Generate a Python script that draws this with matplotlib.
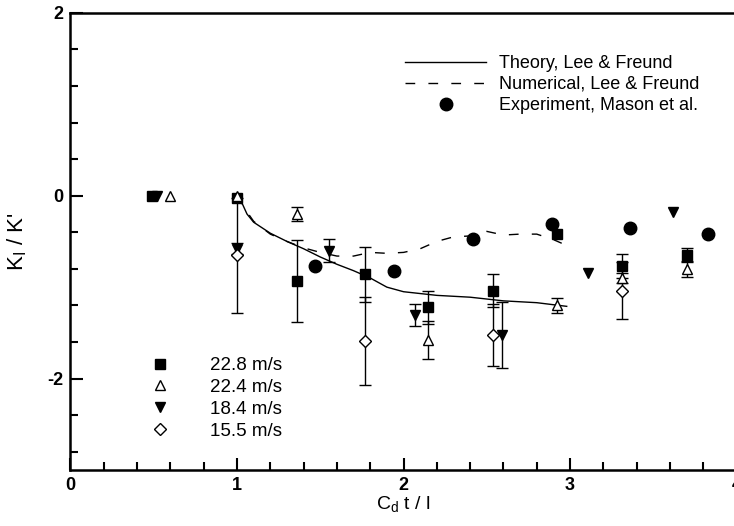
import numpy as np
import matplotlib
matplotlib.use("Agg")
import matplotlib.pyplot as plt
from matplotlib.lines import Line2D
from matplotlib.ticker import MultipleLocator

plt.rcParams['font.family'] = ['Liberation Sans', 'DejaVu Sans']
plt.rcParams['mathtext.default'] = 'regular'
plt.rcParams['axes.unicode_minus'] = False

# theory / numerical curves (Lee & Freund)
theory_x = [1.0, 1.03, 1.06, 1.1, 1.15, 1.2, 1.3, 1.4, 1.5, 1.6, 1.7, 1.8, 1.9, 2.0,
            2.1, 2.2, 2.4, 2.6, 2.8, 2.98]
theory_y = [0.0, -0.08, -0.2, -0.29, -0.35, -0.41, -0.5, -0.58, -0.67, -0.75, -0.82,
            -0.9, -1.0, -1.05, -1.07, -1.09, -1.11, -1.15, -1.17, -1.21]
num_x = [1.0, 1.05, 1.1, 1.2, 1.3, 1.4, 1.5, 1.6, 1.7, 1.8, 1.9, 2.0, 2.1, 2.2, 2.3,
         2.4, 2.5, 2.6, 2.7, 2.8, 2.9, 2.95]
num_y = [0.0, -0.15, -0.28, -0.42, -0.5, -0.57, -0.62, -0.66, -0.66, -0.62, -0.63,
         -0.62, -0.58, -0.5, -0.45, -0.44, -0.39, -0.43, -0.42, -0.42, -0.48, -0.52]

# experiment, Mason et al.
exp_x = [1.47, 1.94, 2.42, 2.89, 3.36, 3.83]
exp_y = [-0.77, -0.82, -0.47, -0.31, -0.35, -0.42]

# velocity series with error bars
sq_x = [0.49, 1.0, 1.36, 1.77, 2.15, 2.54, 2.92, 3.31, 3.7]
sq_y = [0.0, -0.03, -0.93, -0.86, -1.22, -1.04, -0.42, -0.77, -0.65]
sq_err = [0, 0, 0.45, 0.3, 0.18, 0.18, 0, 0.13, 0.08]

tri_x = [0.6, 1.0, 1.36, 2.15, 2.92, 3.31, 3.7]
tri_y = [0.0, 0.0, -0.2, -1.58, -1.2, -0.9, -0.8]
tri_err = [0, 0, 0.08, 0.21, 0.08, 0.05, 0.09]

dtri_x = [0.52, 1.0, 1.55, 2.07, 2.59, 3.11, 3.62]
dtri_y = [0.0, -0.58, -0.6, -1.3, -1.52, -0.85, -0.18]
dtri_err = [0, 0.06, 0.13, 0.12, 0.36, 0, 0]

dia_x = [1.0, 1.77, 2.54, 3.31]
dia_y = [-0.65, -1.59, -1.52, -1.04]
dia_err = [0.63, 0.48, 0.34, 0.31]

labels = ['22.8 m/s', '22.4 m/s', '18.4 m/s', '15.5 m/s']

fig = plt.figure(figsize=(7.34, 5.26), dpi=100)
ax = fig.add_axes([0.096, 0.1065, 0.9075, 0.869])

ax.plot(theory_x, theory_y, color='black', lw=1.0, zorder=2)
ax.plot(num_x, num_y, color='black', lw=1.0, dashes=(7, 9.5), zorder=2)
ax.plot(exp_x, exp_y, 'o', color='black', ms=9, zorder=4)

series = [
    (sq_x, sq_y, sq_err, dict(marker='s', mfc='black', ms=6.5)),
    (tri_x, tri_y, tri_err, dict(marker='^', mfc='white', ms=7.5)),
    (dtri_x, dtri_y, dtri_err, dict(marker='v', mfc='black', ms=7.5)),
    (dia_x, dia_y, dia_err, dict(marker='D', mfc='white', ms=6.5)),
]
handles = []
for (x, y, e, st) in series:
    x = np.array(x); y = np.array(y); e = np.array(e)
    m = e > 0
    ax.errorbar(x[m], y[m], yerr=e[m], fmt='none', ecolor='black', elinewidth=1.0,
                capsize=4, capthick=1.0, zorder=3)
    h, = ax.plot(x, y, ls='none', mec='black', mew=1.0, zorder=5, **st)
    handles.append(h)

ax.set_xlim(0, 4)
ax.set_ylim(-3, 2)
ax.xaxis.set_major_locator(MultipleLocator(1))
ax.xaxis.set_minor_locator(MultipleLocator(0.2))
ax.yaxis.set_major_locator(MultipleLocator(2))
ax.yaxis.set_minor_locator(MultipleLocator(0.4))
ax.tick_params(which='both', direction='in', width=1.5, top=False, right=False,
               labelsize=13)
ax.tick_params(which='major', length=9, pad=5)
ax.tick_params(which='minor', length=5.5)
for lab in ax.get_xticklabels() + ax.get_yticklabels():
    lab.set_fontweight('bold')
for s in ax.spines.values():
    s.set_linewidth(1.8)

ax.set_xlabel("C$_d$ t / l", fontsize=14, labelpad=0)
ax.set_ylabel("K$_\\mathrm{I}$ / K'", fontsize=16)
ax.yaxis.set_label_coords(-0.062, 0.5)

top_handles = [Line2D([], [], color='black', lw=1.0),
               Line2D([], [], color='black', lw=1.0, dashes=(7, 9.5)),
               Line2D([], [], ls='none', marker='o', color='black', ms=9)]
top_labels = ['Theory, Lee & Freund', 'Numerical, Lee & Freund',
              'Experiment, Mason et al.']
leg1 = ax.legend(top_handles, top_labels, loc='upper left', frameon=False,
                 bbox_to_anchor=(405 / 734, 1 - 55 / 526), bbox_transform=fig.transFigure,
                 fontsize=13, handlelength=4.5, handletextpad=0.7, borderpad=0,
                 borderaxespad=0, labelspacing=0.22)
ax.add_artist(leg1)

ax.legend(handles, labels, loc='upper left', frameon=False,
          bbox_to_anchor=(141 / 734, 1 - 357 / 526), bbox_transform=fig.transFigure,
          fontsize=13.5, handlelength=2.0, handletextpad=1.67, borderpad=0,
          borderaxespad=0, labelspacing=0.25)

fig.savefig('out.png', dpi=100)
